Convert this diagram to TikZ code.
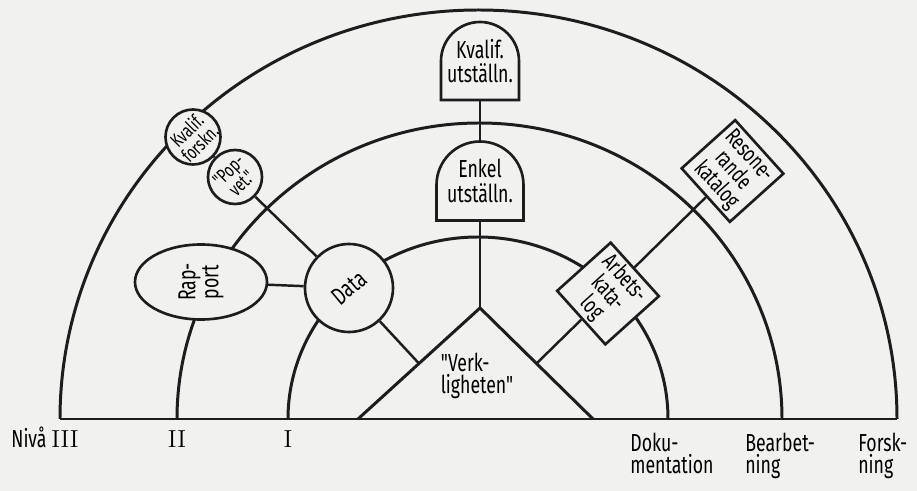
\documentclass[tikz,border=0pt]{standalone}
\usepackage{fontspec}
\newfontfamily\handfont[FakeStretch=0.72]{Fira Sans}
\usetikzlibrary{positioning,shapes.geometric,backgrounds,calc}
\definecolor{Paper}{HTML}{F1F1F0}
\definecolor{Ink}{HTML}{1E1C1C}

\begin{document}
\begin{tikzpicture}[
  pen/.style       = {draw=Ink, line width=1.5pt},
  ringline/.style  = {Ink, line width=1.7pt},
  link/.style      = {Ink, line width=1.4pt},
  ball/.style      = {circle, pen, fill=Paper, inner sep=0pt, align=center,
                      font=\handfont\fontsize{14}{14}\selectfont},
  smallball/.style = {ball, font=\handfont\fontsize{11}{10.5}\selectfont},
  egg/.style       = {ellipse, pen, fill=Paper, inner sep=0pt, align=center,
                      font=\handfont\fontsize{14}{13}\selectfont},
  card/.style      = {rectangle, pen, fill=Paper, minimum size=1.44cm,
                      inner sep=0pt, rotate=-48, align=center,
                      font=\handfont\fontsize{13}{12.5}\selectfont},
  domelabel/.style = {inner sep=0pt, align=center,
                      font=\handfont\fontsize{14}{14}\selectfont},
  lbl/.style       = {inner sep=0pt, align=left,
                      font=\handfont\fontsize{14}{12.5}\selectfont},
  pics/dome/.style 2 args = {code={
    \draw[pen, fill=Paper] (-#1/2,-#2/2) -- (-#1/2,#2/2-#1/2)
      arc[start angle=180, end angle=0, radius=#1/2] -- (#1/2,-#2/2) -- cycle;
  }}
]
  \useasboundingbox (-9.56,-1.44) rectangle (8.78,8.38);

  % "Verkligheten" triangle
  \coordinate (vl) at (-2.4,0);
  \coordinate (va) at (0.04,2.22);
  \coordinate (vr) at (2.3,0);
  \coordinate (vlm) at ($(vl)!0.5!(va)$);
  \coordinate (vrm) at ($(vr)!0.5!(va)$);
  \node[lbl] (verk) at (-0.02,0.86) {"Verk-\\ligheten"};

  % domes on the vertical line
  \pic at (0.04,4.76) {dome={1.74}{1.58}};
  \node[domelabel, minimum width=1.74cm, minimum height=1.58cm] (enkel)
    at (0.04,4.76) {Enkel\\utställn.};
  \pic at (0.04,7.16) {dome={1.56}{1.56}};
  \node[domelabel, minimum width=1.56cm, minimum height=1.56cm] (kvut)
    at (0.04,7.16) {Kvalif.\\utställn.};

  % left branch
  \node[ball, minimum size=1.76cm, rotate=40] (data) at (-2.58,2.62) {Data};
  \node[egg, rotate=90, minimum width=1.5cm, minimum height=2.64cm] (rap)
    at (-5.54,2.74) {Rap-\\port};
  \node[smallball, minimum size=1.08cm, rotate=45] (popvet) at (-4.86,4.84)
    {"Pop-\\vet."};
  \node[smallball, minimum size=1.1cm, rotate=45] (kvfo) at (-5.7,5.64)
    {Kvalif.\\forskn.};

  % right branch
  \node[card] (arb) at (2.6,2.51) {Arbets-\\kata-\\log};
  \node[card] (reso) at (5.09,4.96) {Resone-\\rande\\katalog};

  % levels
  \node[lbl, anchor=base east] (niva) at (-7.98,-0.58) {Nivå {\rmfamily III}};
  \foreach \xx/\num in {-6.02/II, -3.8/I}
    \node[lbl, anchor=base] (lvl\num) at (\xx,-0.58) {\rmfamily\num};
  \node[lbl, anchor=north west] (doku) at (3.04,-0.28) {Doku-\\mentation};
  \node[lbl, anchor=north west] (bearb) at (5.34,-0.28) {Bearbet-\\ning};
  \node[lbl, anchor=north west] (forsk) at (7.6,-0.28) {Forsk-\\ning};

  \begin{scope}[on background layer]
    \fill[Paper] (-9.56,-1.44) rectangle (8.78,8.38);
    \foreach \rx/\ry/\cx in {8.37/8.18/0.01, 6.05/5.92/0.03, 3.8/3.64/0}
      \draw[ringline] (\cx+\rx,0) arc[start angle=0, end angle=180,
                                      x radius=\rx, y radius=\ry];
    \draw[ringline] (-8.36,0) -- (8.38,0);
    \draw[ringline] (vl) -- (va) -- (vr);

    \draw[link] (va) -- (enkel.south);
    \draw[link] (enkel.north) -- (kvut.south);
    \draw[link] (vlm) -- (data);
    \draw[link] (data) -- (popvet);
    \draw[link] (popvet) -- (kvfo);
    \draw[link] (rap) -- (data);
    \draw[link] (vrm) -- (arb);
    \draw[link] (arb) -- (reso);
  \end{scope}
\end{tikzpicture}
\end{document}
